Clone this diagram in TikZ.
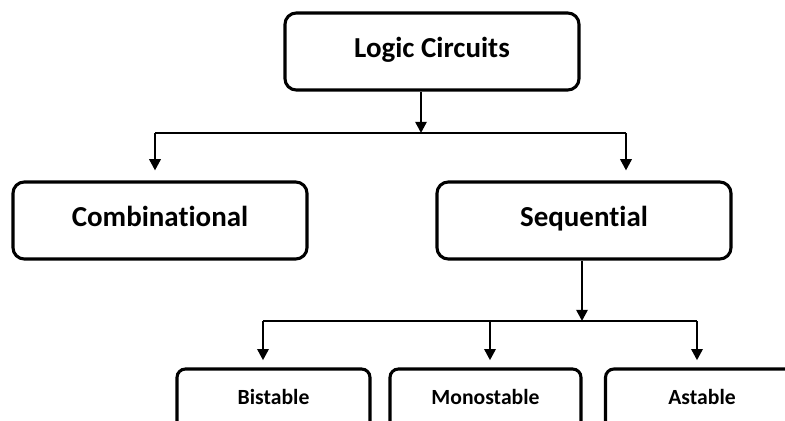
\documentclass[tikz,border=0pt]{standalone}
\usepackage{fontspec}
\setmainfont{Carlito}[Ligatures=NoCommon]
\usepackage{tikz}
\usetikzlibrary{arrows.meta,positioning}

\begin{document}
\begin{tikzpicture}[
    block/.style={draw, line width=2.2pt, rounded corners=8pt, minimum width=7.35cm, minimum height=1.925cm, text height=13.5pt, text depth=5pt, font=\bfseries\fontsize{20.6}{24}\selectfont},
    leaf/.style={draw, line width=2.2pt, rounded corners=6pt, minimum width=4.8cm, minimum height=1.55cm, text height=10pt, text depth=4pt, font=\bfseries\fontsize{15.4}{18}\selectfont},
    wire/.style={line width=1.8pt},
    arrow/.style={-{Triangle[length=8pt, width=8pt]}, line width=1.8pt}
]
\useasboundingbox (0,0) rectangle (19.625,10.5);

% Root
\node[block] (logic) at (10.8, 9.2125) {Logic Circuits};

% Second level
\node[block] (comb) at (4.0, 4.9875) {Combinational};
\node[block] (seq) at (14.6, 4.9875) {Sequential};

% Third level
\node[leaf, minimum width=4.825cm] (bist) at (6.8375, 0.5) {Bistable};
\node[leaf, minimum width=4.775cm] (mono) at (12.1375, 0.5) {Monostable};
\node[leaf, minimum width=4.825cm] (ast) at (17.55, 0.5) {Astable};

% Branch points
\coordinate (splitA) at (10.525, 7.175);
\coordinate (leftA) at (3.875, 7.175);
\coordinate (rightA) at (15.65, 7.175);
\coordinate (splitB) at (14.55, 2.475);
\coordinate (leftB) at (6.575, 2.475);
\coordinate (midB) at (12.25, 2.475);
\coordinate (rightB) at (17.425, 2.475);

% Arrows
\draw[arrow] (logic.south -| splitA) -- (splitA);
\draw[wire] (leftA) -- (rightA);
\draw[arrow, shorten >=0.25cm] (leftA) -- (leftA |- comb.north);
\draw[arrow, shorten >=0.25cm] (rightA) -- (rightA |- seq.north);

\draw[arrow] (seq.south -| splitB) -- (splitB);
\draw[wire] (leftB) -- (rightB);
\draw[arrow, shorten >=0.18cm] (leftB) -- (leftB |- bist.north);
\draw[arrow, shorten >=0.18cm] (midB) -- (midB |- mono.north);
\draw[arrow, shorten >=0.18cm] (rightB) -- (rightB |- ast.north);

\end{tikzpicture}
\end{document}
